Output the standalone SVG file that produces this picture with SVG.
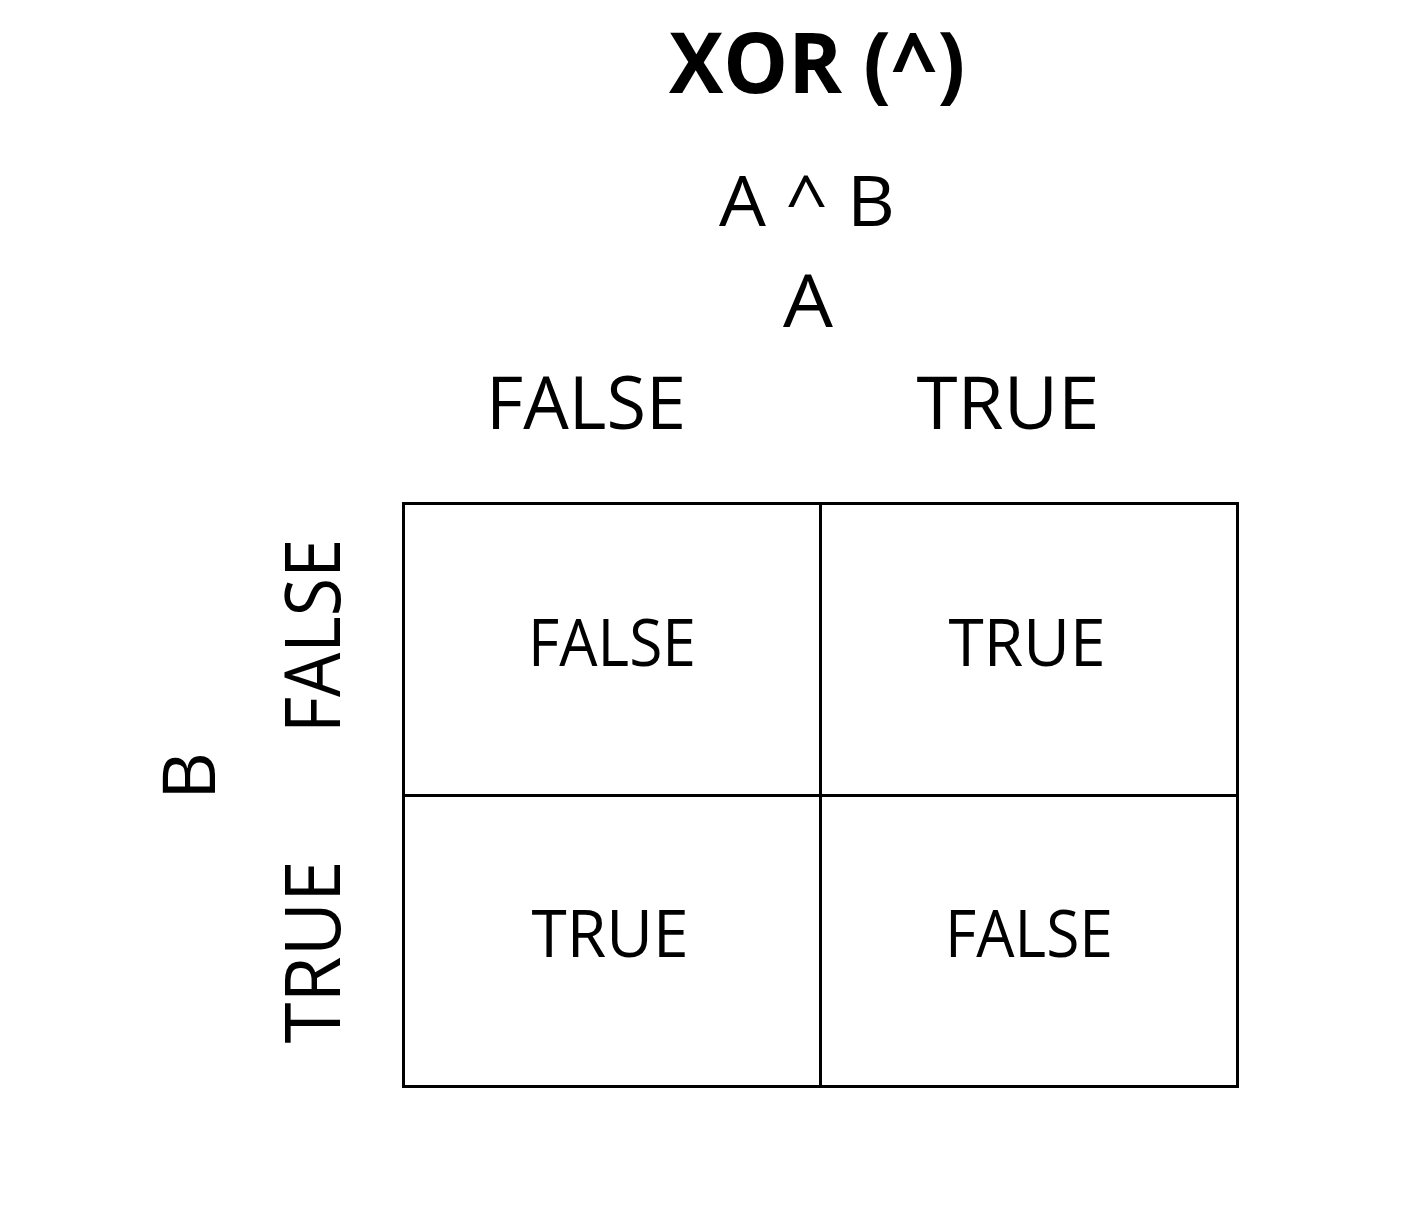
<svg xmlns="http://www.w3.org/2000/svg" width="1406" height="1224" viewBox="0 0 1406 1224">
<style>
text{font-family:"Open Sans","Liberation Sans",sans-serif;fill:#000;text-anchor:middle}
.title{font-weight:bold;font-size:85px}
.hdr{font-size:74px}
.cell{font-size:66px}
.rot{font-size:77px}
.grid{fill:none;stroke:#000;stroke-width:3}
</style>
<rect width="1406" height="1224" fill="#fff"/>
<g id="title"><text class="title" x="817" y="93" textLength="296" lengthAdjust="spacingAndGlyphs">XOR (^)</text></g>
<g id="expr"><text class="hdr" x="807" y="226" font-size="69" style="font-size:69px" textLength="176" lengthAdjust="spacingAndGlyphs">A ^ B</text></g>
<g id="labelA"><text class="hdr" x="808" y="327" style="font-size:73px" textLength="50" lengthAdjust="spacingAndGlyphs">A</text></g>
<g id="colFalse"><text class="hdr" x="586" y="429" textLength="200" lengthAdjust="spacingAndGlyphs">FALSE</text></g>
<g id="colTrue"><text class="hdr" x="1008" y="429" textLength="183" lengthAdjust="spacingAndGlyphs">TRUE</text></g>
<g id="labelB"><text class="rot" transform="translate(215,776) rotate(-90)" x="0" y="0" style="font-size:74px" textLength="48" lengthAdjust="spacingAndGlyphs">B</text></g>
<g id="rowFalse"><text class="rot" transform="translate(340,636) rotate(-90)" x="0" y="0" textLength="194" lengthAdjust="spacingAndGlyphs">FALSE</text></g>
<g id="rowTrue"><text class="rot" transform="translate(340,952) rotate(-90)" x="0" y="0" textLength="183" lengthAdjust="spacingAndGlyphs">TRUE</text></g>
<g id="grid">
<rect class="grid" x="403.5" y="503.5" width="834" height="583"/>
<line class="grid" x1="820.5" y1="503" x2="820.5" y2="1087"/>
<line class="grid" x1="403" y1="795.5" x2="1238" y2="795.5"/>
</g>
<g id="cellFF"><text class="cell" x="612" y="666" textLength="168" lengthAdjust="spacingAndGlyphs">FALSE</text></g>
<g id="cellTF"><text class="cell" x="1027" y="666" textLength="157" lengthAdjust="spacingAndGlyphs">TRUE</text></g>
<g id="cellFT"><text class="cell" x="610" y="957" textLength="157" lengthAdjust="spacingAndGlyphs">TRUE</text></g>
<g id="cellTT"><text class="cell" x="1029" y="957" textLength="168" lengthAdjust="spacingAndGlyphs">FALSE</text></g>
</svg>
